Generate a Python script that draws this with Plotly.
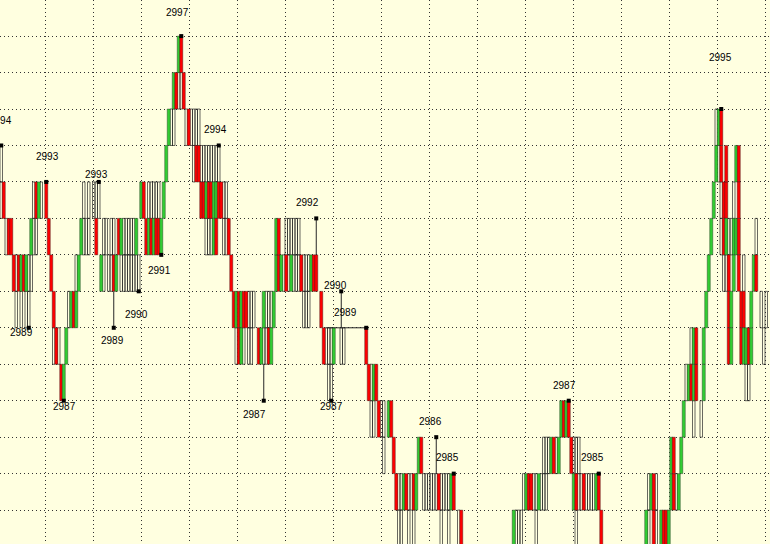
import plotly.graph_objects as go

# brick runs: first bar slot, bottom price of the brick, one letter per bar
# g = up brick (green), r = down brick (red), o = hollow brick
run_start = [0, 0, 1, 2, 5, 6, 8, 10, 12, 13, 18, 19, 20, 21, 21, 24, 26, 27, 30, 32, 33, 35, 37, 38, 40,
             41, 43, 48, 41, 44, 47, 54, 56, 58, 59, 65, 66, 67, 69, 71, 73, 74, 77, 80, 80, 82, 89, 92,
             90, 93, 94, 99, 103, 105, 110, 110, 114, 121, 128, 129, 131, 136, 146,
             147, 148, 151, 155, 153, 157, 167, 158, 169, 175, 159, 163, 165, 176, 179, 183, 184,
             205, 209, 214, 217, 223, 224, 228, 229, 230, 240,
             258, 261, 264, 259, 268, 268, 272, 273, 277, 280, 274, 281, 276, 277, 281, 282, 283, 284, 285,
             286, 286, 287, 288, 288, 290, 289, 291, 291, 293, 293, 294, 295, 295, 296, 296, 297, 298, 300,
             301, 302, 304, 305, 306]
run_level = [2993, 2992, 2992, 2991, 2990, 2989, 2989, 2989, 2991, 2992, 2992, 2991, 2990, 2989, 2988,
             2987, 2988, 2989, 2990, 2991, 2992, 2992, 2992, 2991, 2990,
             2990, 2990, 2990, 2991, 2991, 2991, 2991, 2992, 2991, 2992, 2992, 2993, 2994, 2995, 2996,
             2995, 2994, 2993, 2993, 2992, 2991, 2991, 2990,
             2992, 2989, 2988, 2988, 2988, 2989, 2990, 2991, 2991, 2989, 2989, 2988, 2987, 2988, 2988,
             2987, 2986, 2986, 2986, 2985, 2985, 2985, 2984, 2984, 2984, 2983, 2983, 2983, 2983, 2983,
             2983, 2983,
             2983, 2984, 2983, 2985, 2985, 2986, 2985, 2984, 2983, 2983,
             2983, 2983, 2983, 2984, 2984, 2985, 2985, 2986, 2986, 2986, 2987, 2987, 2988, 2988, 2988,
             2989, 2990, 2991, 2992, 2993, 2994, 2993, 2992, 2991, 2993, 2990, 2989, 2988, 2992, 2990,
             2993, 2992, 2990, 2989, 2988, 2990, 2987, 2989, 2990, 2991, 2989, 2988, 2989]
run_kinds = ["o", "o", "r", "orr", "rorgrgoo", "o", "o", "oo", "goo", "orgo", "r", "r", "r", "r", "oro",
             "rg", "g", "ogrg", "og", "gooo", "o", "o", "ooo", "r", "g",
             "o", "oorg", "oooooooo", "oo", "oo", "rgooooo", "g", "gr", "rgrgrrg", "ooooo", "g", "g", "goo",
             "groo", "gr", "r", "oroooo", "orr", "oooooooo", "rrgrrggrro", "ooogr", "oor", "r",
             "o", "rgrgrrooo", "orgo", "oo", "rgoorg", "gooog", "grgorogooorooogrr", "gr", "oooooo", "ooo",
             "r", "rooog", "oo", "oo", "r",
             "rogr", "oo", "roo", "gr", "o", "r", "gr", "roogroorg", "oooooo", "roooogr", "oo", "o", "o",
             "o", "o", "o", "r",
             "gooo", "ogrroogooo", "o", "ooogro", "g", "grgr", "rooo", "grooroooogr", "o", "r",
             "go", "ro", "grrg", "ogro", "grog", "gr", "g", "g", "o", "o", "ogrgr", "g", "o", "gr", "g",
             "g", "g", "g", "g", "g", "ogr", "or", "orr", "orgooggr", "r", "oor", "rg", "rg", "o", "g",
             "gr", "r", "r", "rr", "rggrg", "o", "oo", "g", "gr", "o", "o", "o", "o"]

# swing points: bar slot, price, and where the wick starts
pivot_slot = [0, 11, 18, 25, 39, 45, 55, 64, 72, 87, 105, 126, 132, 136, 146, 174, 181, 227, 239, 288]
pivot_price = [2994, 2989, 2993, 2987, 2993, 2989, 2990, 2991, 2997, 2994, 2987, 2992, 2987, 2990,
               2989, 2986, 2985, 2987, 2985, 2995]
pivot_from = [2994, 2989, 2993, 2987, 2993, 2990, 2990, 2991, 2997, 2994, 2988, 2991, 2987, 2989,
              2989, 2985, 2985, 2987, 2985, 2995]

# flat line at 2989 between two bars
flat_slots = [130, 146]
flat_price = 2989

# label offsets in pixels (x, up)
label_dx = [-1, -7, 1, 1, -2, -1, -2, -2, -4, -3, -9, -9, 0, -6, -21, -6, -6, -4, -6, -1]
label_dy = [25, -5, 25, -6, 7, -13, -23, -16, 24, 16, -14, 16, -6, 6, 15, 16, 16, 15, 16, 52]

assert len(run_start) == len(run_level) == len(run_kinds)

BG = '#FFFFE0'
GREEN = '#32CD32'
RED = '#FF0000'
INK = '#262626'

hx, hb, cx, cb, cc = [], [], [], [], []
for start, level, run in zip(run_start, run_level, run_kinds):
    for k, ch in enumerate(run):
        if ch == 'o':
            hx.append(start + k)
            hb.append(level)
        else:
            cx.append(start + k)
            cb.append(level)
            cc.append(GREEN if ch == 'g' else RED)

order = sorted(range(len(cx)), key=lambda i: cx[i])
cx = [cx[i] for i in order]
cb = [cb[i] for i in order]
cc = [cc[i] for i in order]

fig = go.Figure()

fig.add_trace(go.Bar(x=hx, y=[1] * len(hx), base=hb, width=1.0,
                     marker=dict(color='rgba(0,0,0,0)', line=dict(color=INK, width=0.7)),
                     hoverinfo='skip'))
fig.add_trace(go.Bar(x=cx, y=[1] * len(cx), base=cb, width=1.25,
                     marker=dict(color=cc, line=dict(color=INK, width=0.4)),
                     hoverinfo='skip'))

# wicks
wx, wy = [], []
for s, p, f in zip(pivot_slot, pivot_price, pivot_from):
    if p != f:
        wx += [s, s, None]
        wy += [f, p, None]
wx += [flat_slots[0], flat_slots[1], None]
wy += [flat_price, flat_price, None]
fig.add_trace(go.Scatter(x=wx, y=wy, mode='lines', line=dict(color=INK, width=1),
                         hoverinfo='skip'))

fig.add_trace(go.Scatter(x=pivot_slot, y=pivot_price, mode='markers',
                         marker=dict(symbol='square', size=4, color='black'),
                         hoverinfo='skip'))

for s, p, dx, dy in zip(pivot_slot, pivot_price, label_dx, label_dy):
    fig.add_annotation(x=s, y=p, text=str(p), showarrow=False, xshift=dx, yshift=dy,
                       font=dict(family='Liberation Sans', size=10, color='black'))

fig.update_layout(width=770, height=544, margin=dict(l=0, r=0, t=0, b=0),
                  paper_bgcolor=BG, plot_bgcolor=BG, barmode='overlay',
                  showlegend=False)
fig.update_xaxes(range=[-0.5, 307.5], showticklabels=False, zeroline=False,
                 showgrid=True, gridcolor='#333333', griddash='1px,3px', gridwidth=1,
                 tick0=17.5, dtick=19.22)
fig.update_yaxes(range=[2983.07, 2997.99], showticklabels=False, zeroline=False,
                 showgrid=True, gridcolor='#333333', griddash='1px,3px', gridwidth=1,
                 tick0=2983, dtick=1)

fig.write_html("out.html", config={'displayModeBar': False},
               post_script="document.body.style.margin='0';")
